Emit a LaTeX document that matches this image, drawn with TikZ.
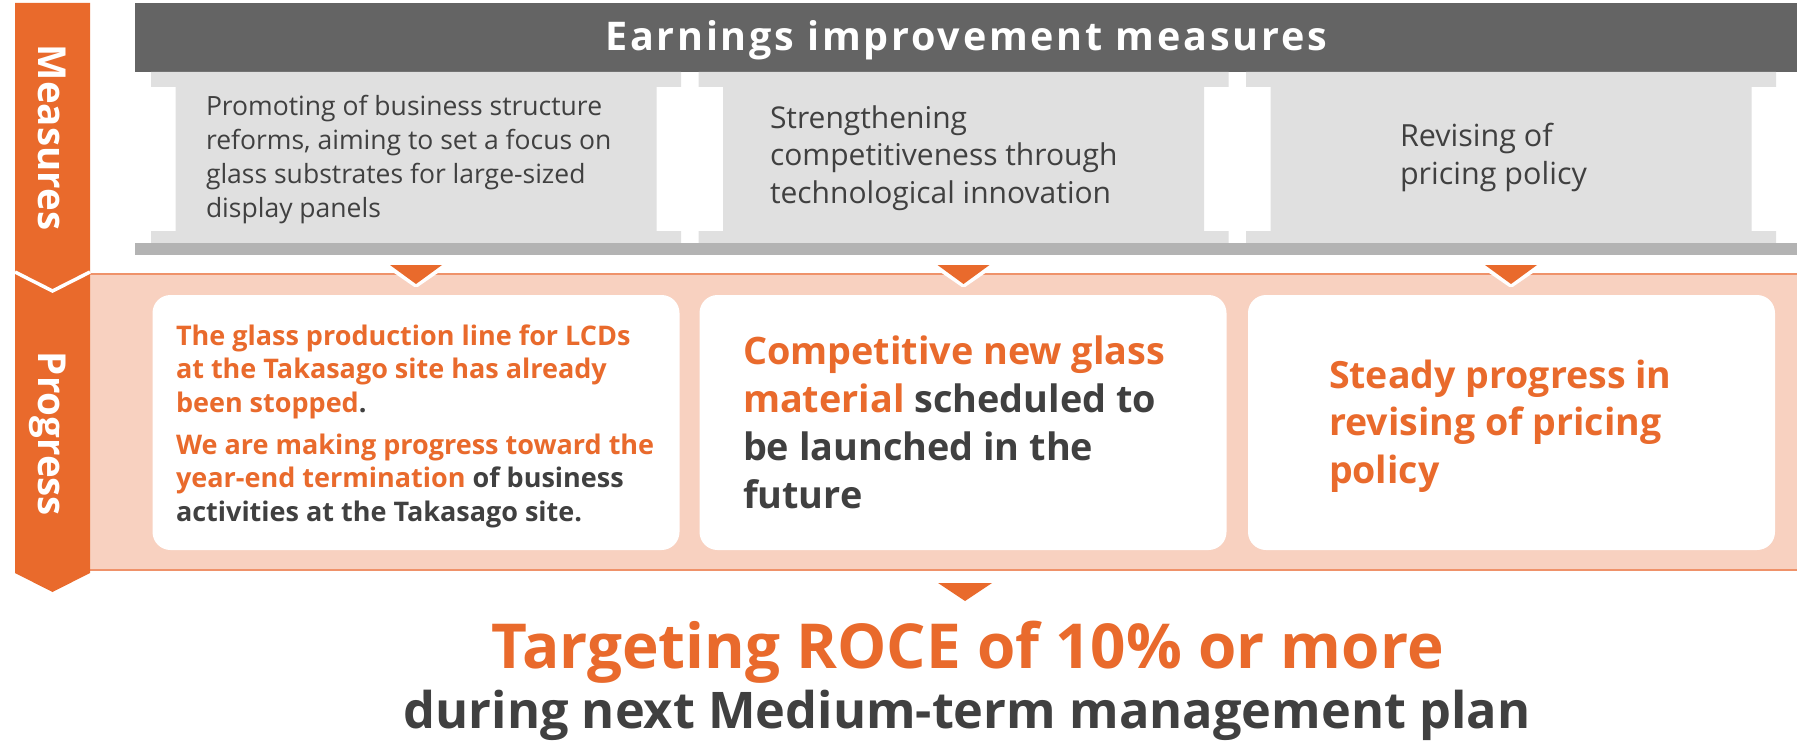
\documentclass[tikz,border=0pt]{standalone}
\usepackage{fontspec}
\setmainfont{Open Sans}
\definecolor{orng}{RGB}{233,106,44}
\definecolor{peach}{RGB}{248,209,192}
\definecolor{peachline}{RGB}{239,146,106}
\definecolor{hdrgrey}{RGB}{100,100,100}
\definecolor{lgrey}{RGB}{224,224,224}
\definecolor{mgrey}{RGB}{179,179,179}
\definecolor{txt}{RGB}{64,64,64}
\newcommand{\fs}[2]{\fontsize{#1}{#2}\selectfont}
\begin{document}
\begin{tikzpicture}[x=1pt,y=-1pt,
  every node/.style={inner sep=0pt,outer sep=0pt},
  column/.style={fill=lgrey},
  mtext/.style={anchor=north west,align=left,text=txt},
  pbox/.style={fill=white,rounded corners=18pt,minimum width=527pt,minimum height=255pt},
  ptext/.style={anchor=north west,align=left,text=orng},
  trihalo/.style={draw=white,fill=white,line width=6pt,line join=round},
  tri/.style={fill=orng},
  sidelabel/.style={anchor=base,rotate=-90,text=white,font=\bfseries\fs{38.5}{40}},
]
\useasboundingbox (0,0) rectangle (1801,741);
\fill[white] (0,0) rectangle (1801,741);
% header
\node[fill=hdrgrey,minimum width=1662pt,minimum height=69pt,anchor=north west] (hdr) at (135,3) {};
\node[anchor=base,text=white,font=\bfseries\fs{39.5}{44}\addfontfeature{LetterSpace=7}] (hdrtxt) at (966,50.5) {Earnings improvement measures};
% measure columns
\foreach \cx/\nm in {151/m1,698.5/m2,1246/m3}{
  \begin{scope}[shift={(\cx,0)}]
  \fill[column] (0,72) -- (530,72) -- (530,87) -- (505.5,87) -- (505.5,231) -- (530,231) -- (530,243) -- (0,243) -- (0,231) -- (24.5,231) -- (24.5,87) -- (0,87) -- cycle;
  \coordinate (\nm) at (265,243);
  \end{scope}
}
\fill[mgrey] (135,243) rectangle (1797,255);
% progress band
\node[fill=peach,anchor=north west,minimum width=1707pt,minimum height=296pt] (band) at (90,274) {};
\draw[peachline,line width=1.5pt] (band.north west) -- (band.north east);
\draw[peachline,line width=1.5pt] (band.south west) -- (band.south east);
% left bar
\fill[orng] (15,3) -- (90,3) -- (90,573) -- (52.5,592) -- (15,573) -- cycle;
\draw[white,line width=3.5pt] (15,272) -- (52.5,291) -- (90,272);
\node[sidelabel] (lm) at (38,137.5) {Measures};
\node[sidelabel] (lp) at (38,434) {Progress};
% progress boxes
\node[pbox] (p1) at (416,422.5) {};
\node[pbox] (p2) at (963,422.5) {};
\node[pbox] (p3) at (1511.5,422.5) {};
% arrows from measures to progress
\foreach \m in {m1,m2,m3}{
  \draw[trihalo] (\m) ++(-26,23.5) -- ++(52,0) -- ++(-26,18) -- cycle;
  \fill[tri] (\m) ++(-26,22) -- ++(52,0) -- ++(-26,19) -- cycle;
}
\fill[tri] (p2.south) ++(-25,33) -- ++(54,0) -- ++(-27,18) -- cycle;
% measure texts
\node[mtext,font=\fs{26.5}{34}] (mt1) at (206,91.2) {\strut Promoting of business structure\\reforms, aiming to set a focus on\\glass substrates for large-sized\\display panels};
\node[mtext,font=\fs{30}{37.7}] (mt2) at (770,101.9) {\strut Strengthening\\competitiveness through\\technological innovation};
\node[mtext,font=\fs{30.5}{38}] (mt3) at (1400,120.1) {\strut Revising of\\pricing policy};
% progress texts
\node[ptext,font=\bfseries\fs{27}{33.5}] (pt1) at (176,321.55) {\strut The glass production line for LCDs\\at the Takasago site has already\\been stopped{\color{txt}.}\\[8.5pt]We are making progress toward the\\year-end termination {\color{txt}of business}\\{\color{txt}activities at the Takasago site.}};
\node[ptext,font=\bfseries\fs{37.8}{47.7}] (pt2) at (743,331.6) {\strut Competitive new glass\\material {\color{txt}scheduled to}\\{\color{txt}be launched in the}\\{\color{txt}future}};
\node[ptext,font=\bfseries\fs{37.5}{47.5}] (pt3) at (1329,355) {\strut Steady progress in\\revising of pricing\\policy};
% goal
\node[anchor=base,text=orng,font=\bfseries\fs{62}{70}] (goal) at (967.5,668) {Targeting ROCE of 10\% or more};
\node[anchor=base,text=txt,font=\bfseries\fs{50.5}{56}] (goal2) at (967,728.5) {during next Medium-term management plan};
\end{tikzpicture}
\end{document}
